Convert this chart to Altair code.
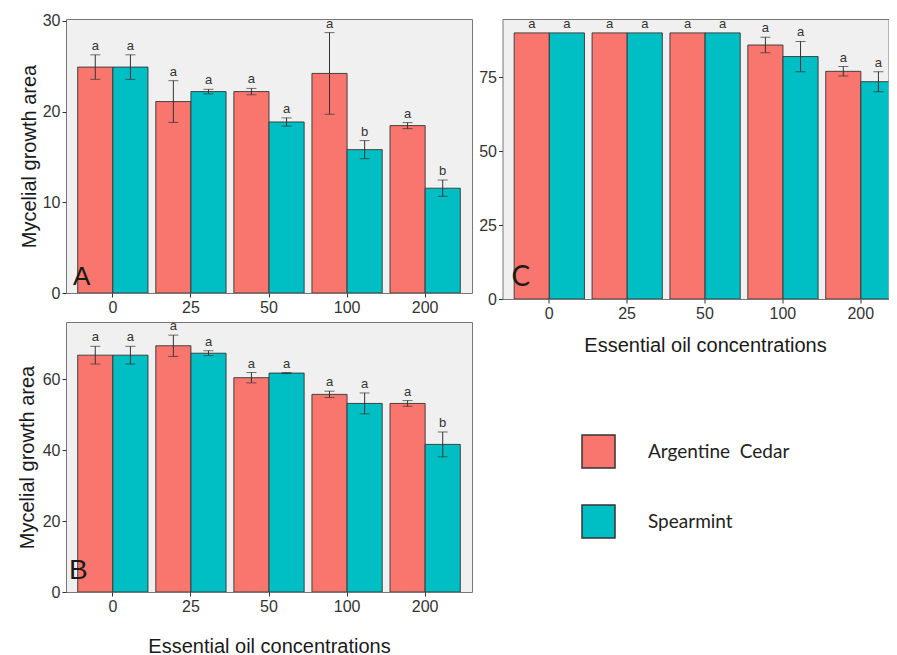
import altair as alt
import pandas as pd

concs = ["0", "25", "50", "100", "200"]
oils = ["Argentine Cedar", "Spearmint"]
colors = ["#F8766D", "#00BFC4"]

# Panel A
a_cedar = [24.9, 21.1, 22.2, 24.2, 18.45]
a_cedar_err = [1.35, 2.3, 0.35, 4.5, 0.33]
a_cedar_lbl = ["a", "a", "a", "a", "a"]
a_spear = [24.9, 22.2, 18.85, 15.8, 11.55]
a_spear_err = [1.35, 0.25, 0.45, 1.0, 0.9]
a_spear_lbl = ["a", "a", "a", "b", "b"]

# Panel B
b_cedar = [66.75, 69.4, 60.4, 55.7, 53.15]
b_cedar_err = [2.5, 3.0, 1.45, 0.9, 0.8]
b_cedar_lbl = ["a", "a", "a", "a", "a"]
b_spear = [66.75, 67.3, 61.7, 53.15, 41.6]
b_spear_err = [2.5, 0.7, 0.15, 2.95, 3.5]
b_spear_lbl = ["a", "a", "a", "a", "b"]

# Panel C
c_cedar = [90, 90, 90, 85.9, 77.0]
c_cedar_err = [0, 0, 0, 2.6, 1.6]
c_cedar_lbl = ["a", "a", "a", "a", "a"]
c_spear = [90, 90, 90, 82.0, 73.5]
c_spear_err = [0, 0, 0, 5.1, 3.4]
c_spear_lbl = ["a", "a", "a", "a", "a"]

FONT = "Liberation Sans"


def make_df(cedar, cedar_err, cedar_lbl, spear, spear_err, spear_lbl):
    rows = []
    for i, c in enumerate(concs):
        rows.append(dict(conc=c, oil=oils[0], mean=cedar[i], err=cedar_err[i], lbl=cedar_lbl[i]))
        rows.append(dict(conc=c, oil=oils[1], mean=spear[i], err=spear_err[i], lbl=spear_lbl[i]))
    df = pd.DataFrame(rows)
    df["lo"] = df["mean"] - df["err"]
    df["hi"] = df["mean"] + df["err"]
    return df


legend = alt.Legend(
    orient="none", legendX=515, legendY=415, title=None,
    symbolType="square", symbolSize=1089, symbolStrokeColor="#333333",
    symbolStrokeWidth=1.5, symbolOpacity=1,
    labelFont="Lato", labelFontSize=19, labelColor="#222222",
    labelOffset=32, rowPadding=31,
    labelExpr="datum.label == 'Argentine Cedar' ? 'Argentine\u00a0 Cedar' : datum.label",
)


def panel(df, ymax, yticks, w, h, letter, letter_font, letter_size, ldx, ldy,
          ytitle, ytitle_pad, xtitle, xtitle_pad, xrange=None):
    xaxis = alt.Axis(title=xtitle, titlePadding=xtitle_pad, labelAngle=0, bandPosition=0.5)
    if xrange is None:
        xscale = alt.Scale(paddingInner=0.1, paddingOuter=0.15)
    else:
        xscale = alt.Scale(paddingInner=0.1, paddingOuter=0.15, range=xrange)
    xenc = alt.X("conc:N", sort=concs, scale=xscale, axis=xaxis)
    xoff = alt.XOffset("oil:N", sort=oils, scale=alt.Scale(paddingInner=0, paddingOuter=0))
    yscale = alt.Scale(domain=[0, ymax], nice=False, zero=True)
    yaxis = alt.Axis(title=ytitle, values=yticks, titlePadding=ytitle_pad)
    base = alt.Chart(df)
    bars = base.mark_bar(stroke="#333333", strokeWidth=0.9, clip=True).encode(
        x=xenc, xOffset=xoff,
        y=alt.Y("mean:Q", scale=yscale, axis=yaxis),
        color=alt.Color("oil:N", sort=oils,
                        scale=alt.Scale(domain=oils, range=colors), legend=legend),
    )
    errs = base.transform_filter("datum.err > 0")
    rule = errs.mark_rule(color="#333333", strokeWidth=1, clip=True).encode(
        x=xenc, xOffset=xoff,
        y=alt.Y("lo:Q", scale=yscale, axis=yaxis), y2="hi:Q",
    )
    cap_lo = errs.mark_tick(color="#333333", size=10, thickness=1, orient="horizontal",
                            clip=True).encode(
        x=xenc, xOffset=xoff, y=alt.Y("lo:Q", scale=yscale, axis=yaxis),
    )
    cap_hi = errs.mark_tick(color="#333333", size=10, thickness=1, orient="horizontal",
                            clip=True).encode(
        x=xenc, xOffset=xoff, y=alt.Y("hi:Q", scale=yscale, axis=yaxis),
    )
    txt = base.mark_text(baseline="alphabetic", dy=-5, fontSize=13, color="#333333",
                         font=FONT).encode(
        x=xenc, xOffset=xoff, y=alt.Y("hi:Q", scale=yscale, axis=yaxis), text="lbl:N",
    )
    let = alt.Chart(pd.DataFrame({"t": [letter]})).mark_text(
        align="left", baseline="alphabetic", fontSize=letter_size, font=letter_font,
        color="#1a1a1a").encode(text="t:N", x=alt.value(ldx), y=alt.value(h - ldy))
    return alt.layer(bars, rule, cap_lo, cap_hi, txt, let).properties(width=w, height=h)


df_a = make_df(a_cedar, a_cedar_err, a_cedar_lbl, a_spear, a_spear_err, a_spear_lbl)
df_b = make_df(b_cedar, b_cedar_err, b_cedar_lbl, b_spear, b_spear_err, b_spear_lbl)
df_c = make_df(c_cedar, c_cedar_err, c_cedar_lbl, c_spear, c_spear_err, c_spear_lbl)

pa = panel(df_a, 30.2, [0, 10, 20, 30], 406, 274, "A", FONT, 26, 7, 8,
           "Mycelial growth area", 2.9, None, 0)
pb = panel(df_b, 76.1, [0, 20, 40, 60], 406, 270, "B", FONT, 28, 3, 13,
           "Mycelial growth area", 5, "Essential oil concentrations", 22)
pc = panel(df_c, 94.7, [0, 25, 50, 75], 386, 280, "C", "Lato", 28, 9, 13,
           None, 0, "Essential oil concentrations", 14, xrange=[0, 405])

left = alt.vconcat(pa, pb, spacing=3)
chart = alt.hconcat(left, pc, spacing=4.5).resolve_scale(color="shared").properties(
    padding={"left": 8, "top": 4, "right": -19, "bottom": 0},
    background="white",
).configure_view(
    fill="#F0F0F0", stroke="#777777", strokeWidth=1
).configure_axis(
    labelFont=FONT, labelFontSize=16, labelColor="#333333", labelPadding=2,
    titleFont=FONT, titleFontSize=20, titleColor="#1a1a1a", titleFontWeight="normal",
    tickColor="#333333", tickSize=4, domain=False, grid=False,
)

chart.save("out.html", embed_options={"renderer": "svg", "actions": False})
